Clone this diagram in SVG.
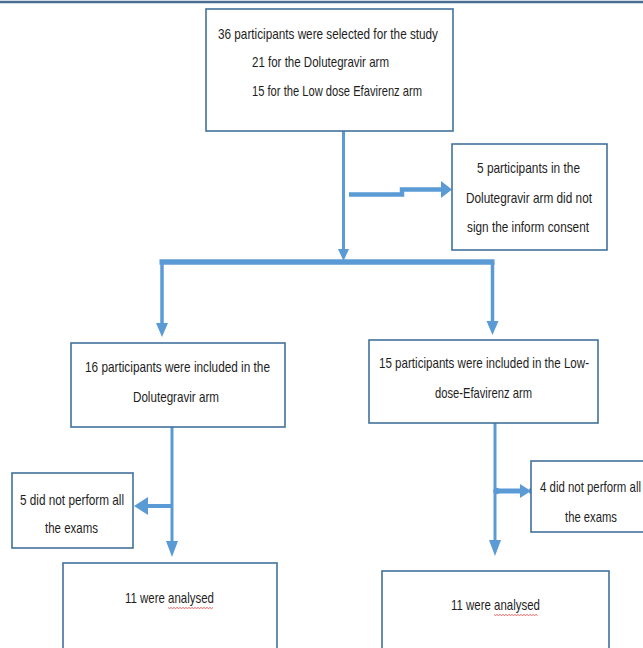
<svg xmlns="http://www.w3.org/2000/svg" width="643" height="648" viewBox="0 0 643 648">
<defs>
<style>
.box{fill:#ffffff;stroke:#41719c;stroke-width:1.6}
.t{font-family:"Liberation Sans",Arial,sans-serif;font-size:15px;fill:#1e1e1e;text-anchor:middle}
.ts{font-family:"Liberation Sans",Arial,sans-serif;font-size:15px;fill:#1e1e1e}
.c{fill:none;stroke:#5b9bd5;stroke-linejoin:miter}
.h{fill:#5b9bd5;stroke:none}
.sq{fill:none;stroke:#e04040;stroke-width:0.8}
</style>
</defs>
<line x1="0" y1="2" x2="643" y2="2" stroke="#4a6e92" stroke-width="2.5"/>

<g id="connectors">
<line class="c" x1="343.5" y1="131" x2="343.5" y2="252" stroke-width="3"/>
<polygon class="h" points="338,249 349,249 343.5,261"/>
<path class="c" d="M349 194.5 H402 V189.5 H442" stroke-width="4.5"/>
<polygon class="h" points="441,181 452,189.5 441,198"/>
<line class="c" x1="159.5" y1="262" x2="494.5" y2="262" stroke-width="5.5"/>
<line class="c" x1="162" y1="262" x2="162" y2="326" stroke-width="3.5"/>
<line class="c" x1="492.5" y1="262" x2="492.5" y2="324" stroke-width="3.5"/>
<polygon class="h" points="156,323 168,323 162,337"/>
<polygon class="h" points="486.5,321 498.5,321 492.5,335"/>
<line class="c" x1="172" y1="427" x2="172" y2="543" stroke-width="3"/>
<polygon class="h" points="166,541 178,541 172,557"/>
<line class="c" x1="172" y1="506" x2="146" y2="506" stroke-width="4"/>
<polygon class="h" points="148,497 134,506 148,515"/>
<line class="c" x1="495" y1="423" x2="495" y2="542" stroke-width="3"/>
<polygon class="h" points="489,540 501,540 495,556"/>
<line class="c" x1="496" y1="491" x2="522" y2="491" stroke-width="5"/>
<polygon class="h" points="520,484 531,491 520,498"/>
<circle class="h" cx="496.5" cy="491" r="3.2"/>
<circle class="h" cx="532" cy="491" r="3.2"/>
</g>

<g id="n1">
<rect class="box" x="206" y="9" width="247" height="122"/>
<text class="ts" x="218" y="38.5" textLength="220" lengthAdjust="spacingAndGlyphs">36 participants were selected for the study</text>
<text class="ts" x="252" y="67" textLength="137" lengthAdjust="spacingAndGlyphs">21 for the Dolutegravir arm</text>
<text class="ts" x="252" y="95.5" textLength="170" lengthAdjust="spacingAndGlyphs">15 for the Low dose Efavirenz arm</text>
</g>

<g id="n2">
<rect class="box" x="452" y="144" width="155" height="106"/>
<text class="t" x="528.5" y="173" textLength="103" lengthAdjust="spacingAndGlyphs">5 participants in the</text>
<text class="t" x="529" y="203" textLength="126" lengthAdjust="spacingAndGlyphs">Dolutegravir arm did not</text>
<text class="t" x="528" y="232" textLength="122" lengthAdjust="spacingAndGlyphs">sign the inform consent</text>
</g>

<g id="n3">
<rect class="box" x="71" y="343" width="214" height="84"/>
<text class="t" x="177.5" y="372" textLength="185" lengthAdjust="spacingAndGlyphs">16 participants were included in the</text>
<text class="t" x="176" y="402" textLength="86" lengthAdjust="spacingAndGlyphs">Dolutegravir arm</text>
</g>

<g id="n4">
<rect class="box" x="369" y="340" width="229" height="83"/>
<text class="t" x="484" y="368" textLength="210" lengthAdjust="spacingAndGlyphs">15 participants were included in the Low-</text>
<text class="t" x="483.5" y="398" textLength="97" lengthAdjust="spacingAndGlyphs">dose-Efavirenz arm</text>
</g>

<g id="n5">
<rect class="box" x="12" y="473" width="121" height="75"/>
<text class="t" x="72" y="505" textLength="104" lengthAdjust="spacingAndGlyphs">5 did not perform all</text>
<text class="t" x="71.5" y="533" textLength="53" lengthAdjust="spacingAndGlyphs">the exams</text>
</g>

<g id="n6">
<rect class="box" x="531" y="461" width="130" height="71"/>
<text class="ts" x="540" y="492" textLength="101" lengthAdjust="spacingAndGlyphs">4 did not perform all</text>
<text class="t" x="591" y="522" textLength="52" lengthAdjust="spacingAndGlyphs">the exams</text>
</g>

<g id="n7">
<rect class="box" x="63" y="563" width="214" height="95"/>
<text class="t" x="169.5" y="603" textLength="89" lengthAdjust="spacingAndGlyphs">11 were analysed</text>
<path class="sq" d="M168 607.5 l1.5 1 l1.5 -1 l1.5 1 l1.5 -1 l1.5 1 l1.5 -1 l1.5 1 l1.5 -1 l1.5 1 l1.5 -1 l1.5 1 l1.5 -1 l1.5 1 l1.5 -1 l1.5 1 l1.5 -1 l1.5 1 l1.5 -1 l1.5 1 l1.5 -1 l1.5 1 l1.5 -1 l1.5 1 l1.5 -1 l1.5 1 l1.5 -1 l1.5 1 l1.5 -1 l1.5 1 l1.5 -1"/>
</g>

<g id="n8">
<rect class="box" x="382" y="571" width="227" height="90"/>
<text class="t" x="495.5" y="610" textLength="89" lengthAdjust="spacingAndGlyphs">11 were analysed</text>
<path class="sq" d="M494 614.5 l1.5 1 l1.5 -1 l1.5 1 l1.5 -1 l1.5 1 l1.5 -1 l1.5 1 l1.5 -1 l1.5 1 l1.5 -1 l1.5 1 l1.5 -1 l1.5 1 l1.5 -1 l1.5 1 l1.5 -1 l1.5 1 l1.5 -1 l1.5 1 l1.5 -1 l1.5 1 l1.5 -1 l1.5 1 l1.5 -1 l1.5 1 l1.5 -1 l1.5 1 l1.5 -1 l1.5 1"/>
</g>
</svg>
